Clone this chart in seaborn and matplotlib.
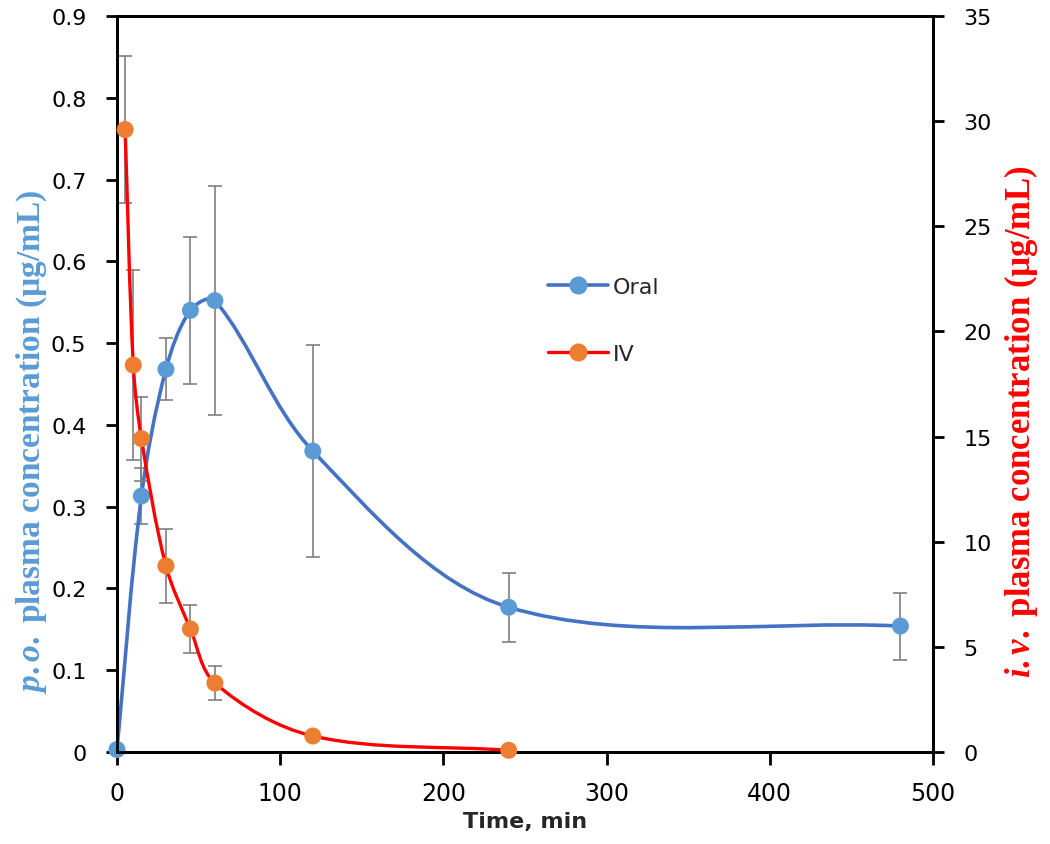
import numpy as np
import matplotlib
matplotlib.use("Agg")
import matplotlib.pyplot as plt
import seaborn as sns
from matplotlib.path import Path
from matplotlib.patches import PathPatch
from matplotlib.lines import Line2D

sns.set_style("ticks")
plt.rcParams["font.family"] = ["DejaVu Sans"]
plt.rcParams["mathtext.fontset"] = "custom"
plt.rcParams["mathtext.it"] = "Liberation Serif:italic:bold"
plt.rcParams["mathtext.rm"] = "Liberation Serif:bold"

# data
oral_time = [0, 15, 30, 45, 60, 120, 240, 480]
oral_conc = [0.003, 0.313, 0.468, 0.540, 0.552, 0.368, 0.177, 0.154]
oral_sd = [0.0, 0.034, 0.038, 0.090, 0.140, 0.130, 0.042, 0.041]

iv_time = [5, 10, 15, 30, 45, 60, 120, 240]
iv_conc = [29.6, 18.4, 14.9, 8.85, 5.85, 3.28, 0.76, 0.08]
iv_sd = [3.5, 4.5, 2.0, 1.75, 1.15, 0.83, 0.0, 0.0]

BLUE_LINE = "#4472C4"
BLUE_MARK = "#5B9BD5"
RED_LINE = "#FF0000"
ORANGE_MARK = "#ED7D31"
ERR_GREY = "#7F7F7F"


def smooth_path(a, x, y):
    # Excel-like smoothed line: cubic Bezier built in screen space,
    # tangents scaled by chord lengths so uneven spacing doesn't loop
    pts = a.transData.transform(np.column_stack([x, y]))
    n = len(pts)
    d = np.hypot(*np.diff(pts, axis=0).T)
    tang = np.zeros_like(pts)
    tang[0] = (pts[1] - pts[0]) / d[0]
    tang[-1] = (pts[-1] - pts[-2]) / d[-1]
    for i in range(1, n - 1):
        tang[i] = (pts[i + 1] - pts[i - 1]) / (d[i - 1] + d[i])
    verts = [pts[0]]
    codes = [Path.MOVETO]
    for i in range(n - 1):
        c1 = pts[i] + tang[i] * d[i] / 3.0
        c2 = pts[i + 1] - tang[i + 1] * d[i] / 3.0
        verts += [c1, c2, pts[i + 1]]
        codes += [Path.CURVE4] * 3
    verts = a.transData.inverted().transform(np.array(verts))
    return Path(verts, codes)


fig, ax = plt.subplots(figsize=(10.5, 8.45), dpi=100)
fig.subplots_adjust(left=0.1114, right=0.8886, bottom=0.1089, top=0.9799)
ax2 = ax.twinx()

ax.set_xlim(0, 500)
ax.set_ylim(0, 0.9)
ax2.set_xlim(0, 500)
ax2.set_ylim(0, 35)

# oral series (left axis)
ax.errorbar(oral_time, oral_conc, yerr=oral_sd, fmt="none", ecolor=ERR_GREY,
            elinewidth=1.2, capsize=5, capthick=1.2, zorder=2)
ax.add_patch(PathPatch(smooth_path(ax, oral_time, oral_conc), facecolor="none",
                       edgecolor=BLUE_LINE, lw=2.6, zorder=3))
sns.scatterplot(x=oral_time, y=oral_conc, ax=ax, color=BLUE_MARK, s=150,
                edgecolor="none", zorder=4, clip_on=False)

# IV series (right axis)
ax2.errorbar(iv_time, iv_conc, yerr=iv_sd, fmt="none", ecolor=ERR_GREY,
             elinewidth=1.2, capsize=5, capthick=1.2, zorder=2)
ax2.add_patch(PathPatch(smooth_path(ax2, iv_time, iv_conc), facecolor="none",
                        edgecolor=RED_LINE, lw=2.4, zorder=3))
sns.scatterplot(x=iv_time, y=iv_conc, ax=ax2, color=ORANGE_MARK, s=150,
                edgecolor="none", zorder=4, clip_on=False)

ax.set_xticks([0, 100, 200, 300, 400, 500])
ax.set_yticks(np.arange(0, 0.91, 0.1))
ax.set_yticklabels(["0"] + [f"{v:.1f}" for v in np.arange(0.1, 0.91, 0.1)])
ax2.set_yticks(range(0, 36, 5))

for a in (ax, ax2):
    for s in a.spines.values():
        s.set_linewidth(2.0)
        s.set_color("black")
    a.tick_params(axis="y", direction="out", length=8, width=2,
                  labelsize=16, colors="black", pad=14)
ax.tick_params(axis="x", direction="out", length=9, width=2,
               labelsize=17, colors="black", pad=12)

ax.set_xlabel("Time, min", fontsize=16, fontweight="bold", labelpad=4)
ax.set_ylabel(r"$\it{p.o.}$ plasma concentration (µg/mL)", family="Liberation Serif",
              fontsize=24, fontweight="bold", color=BLUE_MARK)
ax.yaxis.set_label_coords(-0.083, 0.4226)
ax2.set_ylabel(r"$\it{i.v.}$ plasma concentration (µg/mL)", family="Liberation Serif",
               fontsize=25, fontweight="bold", color=RED_LINE, rotation=90)
ax2.yaxis.set_label_coords(1.085, 0.4497)

handles = [
    Line2D([], [], color=BLUE_LINE, lw=2.6, marker="o", markersize=12,
           markerfacecolor=BLUE_MARK, markeredgecolor=BLUE_MARK),
    Line2D([], [], color=RED_LINE, lw=2.4, marker="o", markersize=12,
           markerfacecolor=ORANGE_MARK, markeredgecolor=ORANGE_MARK),
]
ax2.legend(handles, ["Oral", "IV"], frameon=False, fontsize=16,
           loc="upper left", bbox_to_anchor=(528 / 1050, 1 - 258 / 845),
           bbox_transform=fig.transFigure, handlelength=2.7,
           handletextpad=0.2, labelspacing=2.1)

plt.savefig("out.png", dpi=100)
plt.close()
